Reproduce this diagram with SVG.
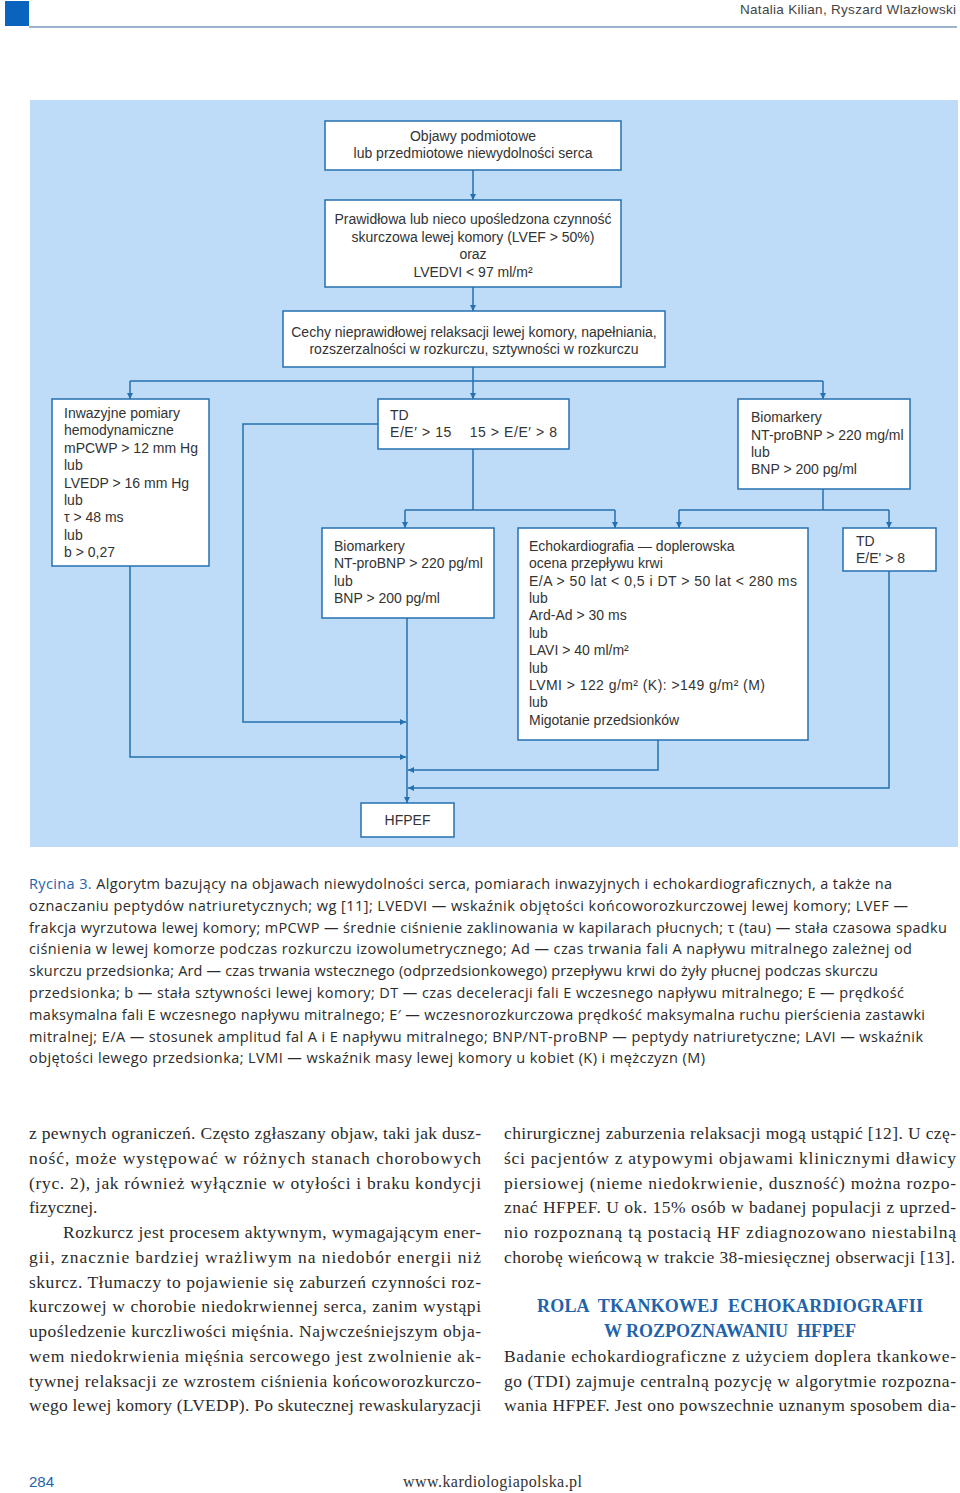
<svg xmlns="http://www.w3.org/2000/svg" width="960" height="1493" viewBox="0 0 960 1493">
<style>
.box{fill:#ffffff;stroke:#2470b0;stroke-width:1.5}
.ln{fill:none;stroke:#2470b0;stroke-width:1.5}
.ft{font-family:"Liberation Sans",Arial,sans-serif;font-size:14px;fill:#333333}
.c{text-anchor:middle}
.cap{font-family:"Open Sans","Noto Sans",sans-serif;font-size:14.5px;fill:#2b2b2b}
.body{font-family:"Liberation Serif","Times New Roman",serif;font-size:17.5px;fill:#2b2b2b}
.hd{font-family:"Liberation Serif","Times New Roman",serif;font-size:18px;font-weight:bold;fill:#1f63ab;text-anchor:middle}
</style>
<defs>
<marker id="ar" viewBox="0 0 8 8" refX="8" refY="4" markerWidth="7" markerHeight="6" markerUnits="userSpaceOnUse" orient="auto">
<path d="M0,0 L8,4 L0,8 Z" fill="#2470b0"/>
</marker>
</defs>
<rect width="960" height="1493" fill="#ffffff"/>
<!-- header -->
<rect x="5" y="1" width="24" height="25" fill="#0a64bd"/>
<line x1="29" y1="27" x2="957" y2="27" stroke="#7b9dbf" stroke-width="1.5"/>
<text x="956" y="14" text-anchor="end" font-family="Liberation Sans,Arial,sans-serif" font-size="13.5" fill="#444444" textLength="216">Natalia Kilian, Ryszard Wlazłowski</text>
<!-- figure background -->
<rect x="30" y="100" width="928" height="747" fill="#bedcf8"/>
<g id="connectors">
<path class="ln" d="M473,170 V200" marker-end="url(#ar)"/>
<path class="ln" d="M473,287 V311" marker-end="url(#ar)"/>
<path class="ln" d="M473,367 V399" marker-end="url(#ar)"/>
<path class="ln" d="M130,381 H823"/>
<path class="ln" d="M130,381 V399" marker-end="url(#ar)"/>
<path class="ln" d="M823,381 V399" marker-end="url(#ar)"/>
<path class="ln" d="M473,449 V510"/>
<path class="ln" d="M405,510 H615"/>
<path class="ln" d="M405,510 V528" marker-end="url(#ar)"/>
<path class="ln" d="M615,510 V528" marker-end="url(#ar)"/>
<path class="ln" d="M823,489 V510"/>
<path class="ln" d="M679,510 H889"/>
<path class="ln" d="M679,510 V528" marker-end="url(#ar)"/>
<path class="ln" d="M889,510 V528" marker-end="url(#ar)"/>
<path class="ln" d="M378,424 H243 V722 H406" marker-end="url(#ar)"/>
<path class="ln" d="M130,566 V757 H406" marker-end="url(#ar)"/>
<path class="ln" d="M407,618 V803" marker-end="url(#ar)"/>
<path class="ln" d="M658,740 V770 H408" marker-end="url(#ar)"/>
<path class="ln" d="M889,571 V788 H408" marker-end="url(#ar)"/>
</g>
<g id="n-objawy">
<rect class="box" x="325" y="121" width="296" height="49"/>
<text class="ft c" x="473" y="141">Objawy podmiotowe</text>
<text class="ft c" x="473" y="158">lub przedmiotowe niewydolności serca</text>
</g>
<g id="n-prawidlowa">
<rect class="box" x="325" y="200" width="296" height="87"/>
<text class="ft c" x="473" y="224">Prawidłowa lub nieco upośledzona czynność</text>
<text class="ft c" x="473" y="242">skurczowa lewej komory (LVEF &gt; 50%)</text>
<text class="ft c" x="473" y="259">oraz</text>
<text class="ft c" x="473" y="277">LVEDVI &lt; 97 ml/m²</text>
</g>
<g id="n-cechy">
<rect class="box" x="283" y="311" width="382" height="56"/>
<text class="ft c" x="474" y="337">Cechy nieprawidłowej relaksacji lewej komory, napełniania,</text>
<text class="ft c" x="474" y="354">rozszerzalności w rozkurczu, sztywności w rozkurczu</text>
</g>
<g id="n-inwazyjne">
<rect class="box" x="52" y="399" width="157" height="167"/>
<text class="ft" x="64" y="418">Inwazyjne pomiary</text>
<text class="ft" x="64" y="435">hemodynamiczne</text>
<text class="ft" x="64" y="453">mPCWP &gt; 12 mm Hg</text>
<text class="ft" x="64" y="470">lub</text>
<text class="ft" x="64" y="488">LVEDP &gt; 16 mm Hg</text>
<text class="ft" x="64" y="505">lub</text>
<text class="ft" x="64" y="522">τ &gt; 48 ms</text>
<text class="ft" x="64" y="540">lub</text>
<text class="ft" x="64" y="557">b &gt; 0,27</text>
</g>
<g id="n-td">
<rect class="box" x="378" y="399" width="191" height="50"/>
<text class="ft" x="390" y="420">TD</text>
<text class="ft" x="390" y="437" xml:space="preserve" textLength="167">E/E′ &gt; 15    15 &gt; E/E′ &gt; 8</text>
</g>
<g id="n-biomarkery-r">
<rect class="box" x="738" y="399" width="172" height="90"/>
<text class="ft" x="751" y="422">Biomarkery</text>
<text class="ft" x="751" y="440">NT-proBNP &gt; 220 mg/ml</text>
<text class="ft" x="751" y="457">lub</text>
<text class="ft" x="751" y="474">BNP &gt; 200 pg/ml</text>
</g>
<g id="n-biomarkery-m">
<rect class="box" x="322" y="528" width="172" height="90"/>
<text class="ft" x="334" y="551">Biomarkery</text>
<text class="ft" x="334" y="568">NT-proBNP &gt; 220 pg/ml</text>
<text class="ft" x="334" y="586">lub</text>
<text class="ft" x="334" y="603">BNP &gt; 200 pg/ml</text>
</g>
<g id="n-echo">
<rect class="box" x="518" y="528" width="290" height="212"/>
<text class="ft" x="529" y="551">Echokardiografia — doplerowska</text>
<text class="ft" x="529" y="568">ocena przepływu krwi</text>
<text class="ft" x="529" y="586" textLength="268">E/A &gt; 50 lat &lt; 0,5 i DT &gt; 50 lat &lt; 280 ms</text>
<text class="ft" x="529" y="603">lub</text>
<text class="ft" x="529" y="620">Ard-Ad &gt; 30 ms</text>
<text class="ft" x="529" y="638">lub</text>
<text class="ft" x="529" y="655">LAVI &gt; 40 ml/m²</text>
<text class="ft" x="529" y="673">lub</text>
<text class="ft" x="529" y="690" textLength="236">LVMI &gt; 122 g/m² (K): &gt;149 g/m² (M)</text>
<text class="ft" x="529" y="707">lub</text>
<text class="ft" x="529" y="725">Migotanie przedsionków</text>
</g>
<g id="n-td-r">
<rect class="box" x="843" y="528" width="93" height="43"/>
<text class="ft" x="856" y="546">TD</text>
<text class="ft" x="856" y="563">E/E' &gt; 8</text>
</g>
<g id="n-hfpef">
<rect class="box" x="361" y="803" width="93" height="34"/>
<text class="ft c" x="407.5" y="825">HFPEF</text>
</g>
<!-- caption -->
<text class="cap" x="29" y="889" textLength="863"><tspan fill="#1f63ab">Rycina 3.</tspan> Algorytm bazujący na objawach niewydolności serca, pomiarach inwazyjnych i echokardiograficznych, a także na</text>
<text class="cap" x="29" y="911" textLength="879">oznaczaniu peptydów natriuretycznych; wg [11]; LVEDVI — wskaźnik objętości końcoworozkurczowej lewej komory; LVEF —</text>
<text class="cap" x="29" y="933" textLength="918">frakcja wyrzutowa lewej komory; mPCWP — średnie ciśnienie zaklinowania w kapilarach płucnych; τ (tau) — stała czasowa spadku</text>
<text class="cap" x="29" y="954" textLength="883">ciśnienia w lewej komorze podczas rozkurczu izowolumetrycznego; Ad — czas trwania fali A napływu mitralnego zależnej od</text>
<text class="cap" x="29" y="976" textLength="849">skurczu przedsionka; Ard — czas trwania wstecznego (odprzedsionkowego) przepływu krwi do żyły płucnej podczas skurczu</text>
<text class="cap" x="29" y="998" textLength="875">przedsionka; b — stała sztywności lewej komory; DT — czas deceleracji fali E wczesnego napływu mitralnego; E — prędkość</text>
<text class="cap" x="29" y="1020" textLength="896">maksymalna fali E wczesnego napływu mitralnego; E′ — wczesnorozkurczowa prędkość maksymalna ruchu pierścienia zastawki</text>
<text class="cap" x="29" y="1042" textLength="894">mitralnej; E/A — stosunek amplitud fal A i E napływu mitralnego; BNP/NT-proBNP — peptydy natriuretyczne; LAVI — wskaźnik</text>
<text class="cap" x="29" y="1063" textLength="676">objętości lewego przedsionka; LVMI — wskaźnik masy lewej komory u kobiet (K) i mężczyzn (M)</text>
<!-- body left column -->
<text class="body" x="29" y="1139" textLength="452">z pewnych ograniczeń. Często zgłaszany objaw, taki jak dusz-</text>
<text class="body" x="29" y="1164" textLength="452">ność, może występować w różnych stanach chorobowych</text>
<text class="body" x="29" y="1189" textLength="452">(ryc. 2), jak również wyłącznie w otyłości i braku kondycji</text>
<text class="body" x="29" y="1213">fizycznej.</text>
<text class="body" x="63" y="1238" textLength="418">Rozkurcz jest procesem aktywnym, wymagającym ener-</text>
<text class="body" x="29" y="1263" textLength="452">gii, znacznie bardziej wrażliwym na niedobór energii niż</text>
<text class="body" x="29" y="1288" textLength="452">skurcz. Tłumaczy to pojawienie się zaburzeń czynności roz-</text>
<text class="body" x="29" y="1312" textLength="452">kurczowej w chorobie niedokrwiennej serca, zanim wystąpi</text>
<text class="body" x="29" y="1337" textLength="452">upośledzenie kurczliwości mięśnia. Najwcześniejszym obja-</text>
<text class="body" x="29" y="1362" textLength="452">wem niedokrwienia mięśnia sercowego jest zwolnienie ak-</text>
<text class="body" x="29" y="1387" textLength="452">tywnej relaksacji ze wzrostem ciśnienia końcoworozkurczo-</text>
<text class="body" x="29" y="1411" textLength="452">wego lewej komory (LVEDP). Po skutecznej rewaskularyzacji</text>
<!-- body right column -->
<text class="body" x="504" y="1139" textLength="452">chirurgicznej zaburzenia relaksacji mogą ustąpić [12]. U czę-</text>
<text class="body" x="504" y="1164" textLength="452">ści pacjentów z atypowymi objawami klinicznymi dławicy</text>
<text class="body" x="504" y="1189" textLength="452">piersiowej (nieme niedokrwienie, duszność) można rozpo-</text>
<text class="body" x="504" y="1213" textLength="452">znać HFPEF. U ok. 15% osób w badanej populacji z uprzed-</text>
<text class="body" x="504" y="1238" textLength="452">nio rozpoznaną tą postacią HF zdiagnozowano niestabilną</text>
<text class="body" x="504" y="1263" textLength="451">chorobę wieńcową w trakcie 38-miesięcznej obserwacji [13].</text>
<text class="hd" x="730" y="1312" xml:space="preserve" textLength="386">ROLA  TKANKOWEJ  ECHOKARDIOGRAFII</text>
<text class="hd" x="730" y="1337" xml:space="preserve">W ROZPOZNAWANIU  HFPEF</text>
<text class="body" x="504" y="1362" textLength="452">Badanie echokardiograficzne z użyciem doplera tkankowe-</text>
<text class="body" x="504" y="1387" textLength="452">go (TDI) zajmuje centralną pozycję w algorytmie rozpozna-</text>
<text class="body" x="504" y="1411" textLength="452">wania HFPEF. Jest ono powszechnie uznanym sposobem dia-</text>
<!-- footer -->
<text x="29" y="1487" font-family="Liberation Sans,Arial,sans-serif" font-size="15" fill="#1f63ab">284</text>
<text x="492.5" y="1487" text-anchor="middle" font-family="Liberation Serif,Times New Roman,serif" font-size="16" fill="#333333" textLength="179">www.kardiologiapolska.pl</text>
</svg>
